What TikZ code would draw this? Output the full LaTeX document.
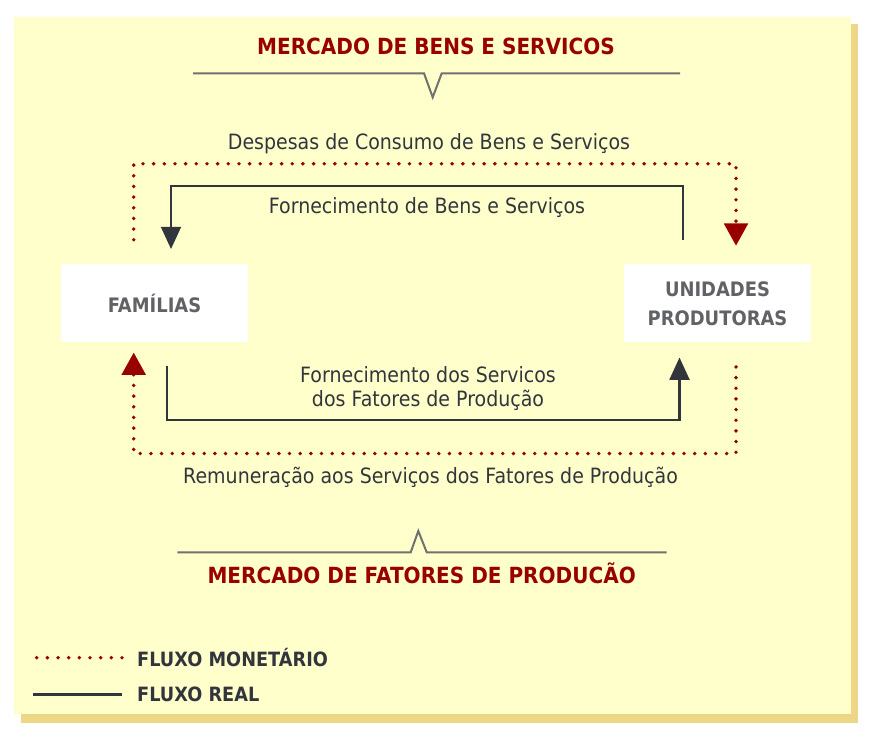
\documentclass[tikz,border=0pt]{standalone}
\usepackage{fontspec}
\setmainfont{DejaVu Sans}[FakeStretch=0.9]
\usetikzlibrary{arrows.meta,calc}
\definecolor{fundo}{RGB}{255,255,204}
\definecolor{sombra}{RGB}{237,215,135}
\definecolor{vinho}{RGB}{153,0,0}
\definecolor{grafite}{RGB}{50,54,60}
\definecolor{cinza}{RGB}{112,112,112}
\definecolor{cinzatexto}{RGB}{96,98,102}

\begin{document}
\begin{tikzpicture}[x=0.03cm,y=0.03cm,
  setor/.style={fill=white,minimum width=5.61cm,minimum height=2.34cm,inner sep=0pt,
    align=center,text=cinzatexto,font=\fontsize{17}{24.8}\selectfont\bfseries},
  mercado/.style={text=vinho,font=\fontsize{19}{23}\selectfont\bfseries,anchor=base,inner sep=0pt},
  rotulo/.style={text=grafite,font=\fontsize{18}{20.9}\selectfont,align=center,inner sep=0pt},
  legenda/.style={text=grafite,font=\fontsize{16.8}{20}\selectfont\bfseries,anchor=base west,inner sep=0pt},
  monetario/.style={draw=vinho,line width=3.3pt,line cap=round,dash pattern=on 0pt off 9.1pt},
  real/.style={draw=grafite,line width=1.8pt},
  chave/.style={draw=cinza,line width=1.7pt},
  ponta/.style={-{Triangle[width=17pt,length=19pt]}},
  pontav/.style={-{Triangle[width=20pt,length=19pt]}}]

% fundo com sombra
\fill[white] (0,0) rectangle (876,739);
\fill[sombra] (21,16) rectangle (858,715);
\fill[fundo] (14,25) rectangle (851,722);
\useasboundingbox (0,0) rectangle (876,739);

% agentes
\node[setor] (familias) at (154.5,435.7) {FAMÍLIAS};
\node[setor] (unidades) at (717.5,435.7) {UNIDADES\\PRODUTORAS};

% mercados
\node[mercado] (mbens) at (436,684) {MERCADO DE BENS E SERVICOS};
\node[mercado] (mfatores) at (421.7,155.7) {MERCADO DE FATORES DE PRODUCÃO};
\draw[chave] (193,665.7) -- (424,665.7) -- (432.7,641.7) -- (441.7,665.7) -- (680,665.7);
\draw[chave] (177.3,186.7) -- (410.7,186.7) -- (418.3,208) -- (426.7,186.7) -- (666.7,186.7);

% rotulos dos fluxos
\node[rotulo,anchor=base] (despesas) at (429,589.7) {Despesas de Consumo de Bens e Serviços};
\node[rotulo,anchor=base] (fornbens) at (427,525) {Fornecimento de Bens e Serviços};
\node[rotulo] (fornfatores) at (428,350.5) {Fornecimento dos Servicos\\dos Fatores de Produção};
\node[rotulo,anchor=base] (remuneracao) at (430.5,255) {Remuneração aos Serviços dos Fatores de Produção};

% fluxo real
\draw[real,ponta] ($(unidades.north)+(-34.5,23.6)$) -- ++(0,54.7) -| ($(familias.north)+(16.5,15)$);
\draw[real,ponta] ($(familias.south)+(12.2,-23.4)$) -- ++(0,-54.3) -| ($(unidades.south)+(-38,-15)$);

% fluxo monetario
\draw[monetario,pontav] ($(familias.north)+(-20.8,24.3)$) -- ++(0,76) -| ($(unidades.north)+(18.5,18.3)$);
\draw[monetario,pontav] ($(unidades.south)+(18.5,-24.4)$) -- ++(0,-86.6) -| ($(familias.south)+(-20.8,-10)$);

% legenda
\node[legenda] (lmonetario) at (137,72.3) {FLUXO MONETÁRIO};
\node[legenda] (lreal) at (137,37.3) {FLUXO REAL};
\draw[monetario] ($(lmonetario.west)+(-15,0)$) -- ++(-87,0);
\draw[real] ($(lreal.west)+(-15,0)$) -- ++(-89,0);
\end{tikzpicture}
\end{document}
